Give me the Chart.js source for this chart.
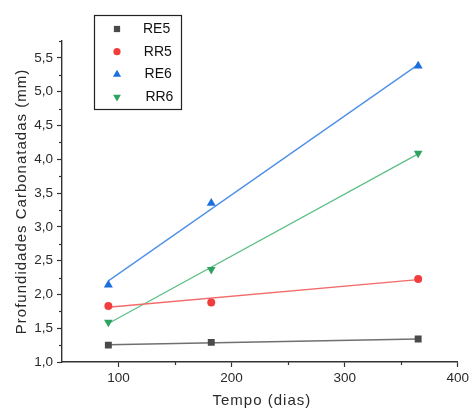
<!DOCTYPE html>
<html lang="pt-br">
<head>
<meta charset="UTF-8">
<title>Profundidades Carbonatadas</title>
<script src="https://cdn.jsdelivr.net/npm/chart.js"></script>
<style>
  html, body { margin: 0; padding: 0; background: #fff; }
  #wrap { width: 472px; height: 410px; position: relative; }
</style>
</head>
<body>
<div id="wrap"><canvas id="grafico"></canvas></div>
<script>
// valores
const dias = [91, 182, 365];
const re5 = [1.25, 1.29, 1.34];
const rr5 = [1.83, 1.88, 2.23];
const re6 = [2.14, 3.35, 5.38];
const rr6 = [1.59, 2.37, 4.09];

// retas de ajuste (extremos)
const ajusteX = [91, 365];
const re5Ajuste = [1.255, 1.34];
const rr5Ajuste = [1.81, 2.22];
const re6Ajuste = [2.20, 5.40];
const rr6Ajuste = [1.57, 4.08];

// ticks
const ticksX = [100, 200, 300, 400];
const ticksXMenor = [150, 250, 350];
const ticksY = [1.0, 1.5, 2.0, 2.5, 3.0, 3.5, 4.0, 4.5, 5.0, 5.5];
const ticksYMenor = [1.25, 1.75, 2.25, 2.75, 3.25, 3.75, 4.25, 4.75, 5.25, 5.75];

const series = [
  { nome: 'RE5', y: re5, ajuste: re5Ajuste, cor: '#4a4a4a', corLinha: '#707070', estilo: 'rect', rot: 0, raio: 4.9 },
  { nome: 'RR5', y: rr5, ajuste: rr5Ajuste, cor: '#f23d3d', corLinha: '#f26a6a', estilo: 'circle', rot: 0, raio: 4.0 },
  { nome: 'RE6', y: re6, ajuste: re6Ajuste, cor: '#1c6fe0', corLinha: '#4d8fe8', estilo: 'triangle', rot: 0, raio: 5.2 },
  { nome: 'RR6', y: rr6, ajuste: rr6Ajuste, cor: '#2ea35f', corLinha: '#5ebf87', estilo: 'triangle', rot: 180, raio: 5.0 }
];

const pares = (xs, ys) => xs.map((x, i) => ({ x: x, y: ys[i] }));

const datasets = [];
series.forEach(s => {
  datasets.push({
    label: s.nome,
    data: pares(dias, s.y),
    pointStyle: s.estilo,
    pointRotation: s.rot,
    pointRadius: s.raio,
    pointHoverRadius: s.raio,
    backgroundColor: s.cor,
    borderColor: s.cor,
    pointBorderWidth: 0,
    showLine: false,
    order: 0
  });
  datasets.push({
    label: s.nome + ' ajuste',
    data: pares(ajusteX, s.ajuste),
    showLine: true,
    borderColor: s.corLinha,
    borderWidth: 1.3,
    pointRadius: 0,
    order: 1
  });
});

const FONTE = '"Liberation Sans", Arial, sans-serif';

function marcador(ctx, estilo, rot, x, y, r, cor) {
  ctx.save();
  ctx.fillStyle = cor;
  ctx.beginPath();
  if (estilo === 'rect') {
    const h = Math.SQRT1_2 * r;
    ctx.rect(x - h, y - h, 2 * h, 2 * h);
  } else if (estilo === 'circle') {
    ctx.arc(x, y, r, 0, Math.PI * 2);
  } else {
    const d = rot === 180 ? -1 : 1;
    ctx.moveTo(x, y - d * r);
    ctx.lineTo(x + r * 0.866, y + d * r * 0.5);
    ctx.lineTo(x - r * 0.866, y + d * r * 0.5);
    ctx.closePath();
  }
  ctx.fill();
  ctx.restore();
}

// ticks menores, títulos dos eixos e legenda
const extras = {
  id: 'extras',
  afterDraw(chart) {
    const ctx = chart.ctx;
    const sx = chart.scales.x, sy = chart.scales.y;
    const area = chart.chartArea;
    ctx.save();
    ctx.strokeStyle = '#333';
    ctx.lineWidth = 1.2;
    ticksXMenor.forEach(v => {
      const px = Math.round(sx.getPixelForValue(v)) + 0.5;
      ctx.beginPath(); ctx.moveTo(px, area.bottom); ctx.lineTo(px, area.bottom + 3); ctx.stroke();
    });
    ticksYMenor.forEach(v => {
      const py = Math.round(sy.getPixelForValue(v)) + 0.5;
      ctx.beginPath(); ctx.moveTo(area.left, py); ctx.lineTo(area.left - 3, py); ctx.stroke();
    });

    // títulos
    ctx.fillStyle = '#2a2a2a';
    ctx.font = '15px ' + FONTE;
    ctx.letterSpacing = '1px';
    ctx.textAlign = 'center';
    ctx.textBaseline = 'middle';
    ctx.fillText('Tempo (dias)', (area.left + area.right) / 2 + 2, 401);
    ctx.save();
    ctx.translate(22, (area.top + area.bottom) / 2);
    ctx.rotate(-Math.PI / 2);
    ctx.fillText('Profundidades Carbonatadas (mm)', 0, 0);
    ctx.restore();
    ctx.letterSpacing = '0px';

    // legenda
    const bx = 94.5, by = 15.5, bw = 87, bh = 94;
    ctx.fillStyle = '#fff';
    ctx.fillRect(bx, by, bw, bh);
    ctx.strokeStyle = '#222';
    ctx.lineWidth = 1.2;
    ctx.strokeRect(bx, by, bw, bh);
    ctx.font = '14px ' + FONTE;
    ctx.textAlign = 'left';
    ctx.fillStyle = '#111';
    series.forEach((s, i) => {
      const y = 29 + i * 22.7;
      marcador(ctx, s.estilo, s.rot, 117, y, s.raio * 0.9, s.cor);
      ctx.fillText(s.nome, 143 + i * 0.8, y);
    });
    ctx.restore();
  }
};

new Chart(document.getElementById('grafico'), {
  type: 'scatter',
  data: { datasets: datasets },
  plugins: [extras],
  options: {
    responsive: true,
    maintainAspectRatio: false,
    animation: false,
    layout: { padding: { top: 41, right: 14, left: 0, bottom: 0 } },
    plugins: { legend: { display: false }, tooltip: { enabled: false } },
    scales: {
      x: {
        type: 'linear',
        min: 50,
        max: 400,
        afterBuildTicks: s => { s.ticks = ticksX.map(v => ({ value: v })); },
        afterFit: s => { s.height = 48; },
        grid: { drawOnChartArea: false, tickLength: 5, tickColor: '#333', tickWidth: 1.2 },
        border: { color: '#333', width: 1.4 },
        ticks: { color: '#2a2a2a', padding: 3, maxRotation: 0, font: { family: FONTE, size: 13.5 } }
      },
      y: {
        type: 'linear',
        min: 1.0,
        max: 5.75,
        afterBuildTicks: s => { s.ticks = ticksY.map(v => ({ value: v })); },
        afterFit: s => { s.width = 62; },
        grid: { drawOnChartArea: false, tickLength: 5, tickColor: '#333', tickWidth: 1.2 },
        border: { color: '#333', width: 1.4 },
        ticks: {
          color: '#2a2a2a', padding: 4, font: { family: FONTE, size: 13.5 },
          callback: v => v.toFixed(1).replace('.', ',')
        }
      }
    }
  }
});
</script>
</body>
</html>
